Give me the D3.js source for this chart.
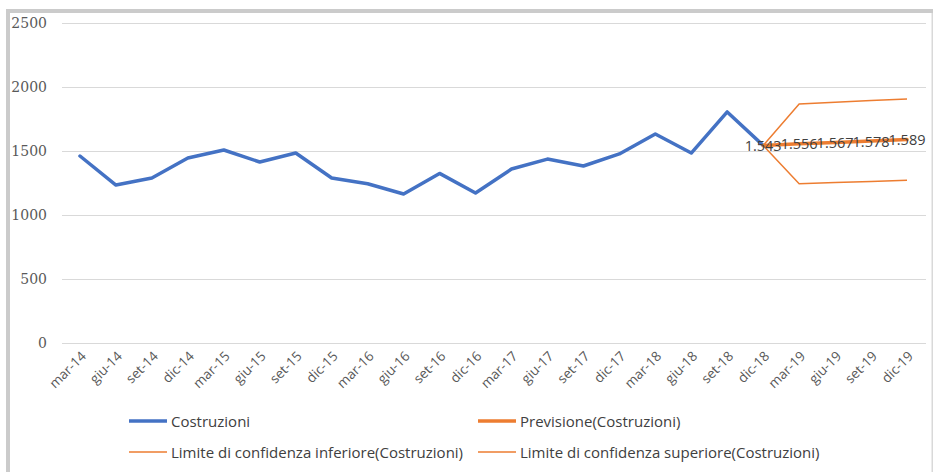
<!DOCTYPE html>
<html>
<head>
<meta charset="utf-8">
<script src="https://cdn.jsdelivr.net/npm/d3@7"></script>
<style>
  html, body { margin: 0; padding: 0; background: #fff; }
  svg { display: block; }
</style>
</head>
<body>
<div id="chart"></div>
<script>
// Quarterly categories
const categories = ["mar-14","giu-14","set-14","dic-14","mar-15","giu-15","set-15","dic-15",
  "mar-16","giu-16","set-16","dic-16","mar-17","giu-17","set-17","dic-17",
  "mar-18","giu-18","set-18","dic-18","mar-19","giu-19","set-19","dic-19"];

// Observed series (mar-14 .. dic-18)
const costruzioni = [1461,1234,1289,1445,1508,1414,1484,1289,1244,1164,1325,1172,
  1359,1437,1383,1477,1633,1484,1805,1543];

// Forecast and confidence bounds (dic-18 .. dic-19)
const forecastCats = ["dic-18","mar-19","giu-19","set-19","dic-19"];
const previsione = [1543,1556,1567,1578,1589];
const limiteInf  = [1543,1245,1253,1262,1272];
const limiteSup  = [1543,1867,1881,1894,1906];

const yTicks = [0,500,1000,1500,2000,2500];

const W = 933, H = 472;
const svg = d3.select("#chart").append("svg").attr("width", W).attr("height", H);

// Outer frame
svg.append("rect").attr("x",0).attr("y",0).attr("width",W).attr("height",H).attr("fill","#fff");
svg.append("rect").attr("x",6).attr("y",9).attr("width",W-6).attr("height",4).attr("fill","#cbcbcb");
svg.append("rect").attr("x",6).attr("y",9).attr("width",4).attr("height",H-9).attr("fill","#cbcbcb");
svg.append("rect").attr("x",931.5).attr("y",13).attr("width",1.5).attr("height",H-13).attr("fill","#d9d9d9");

const x = d3.scalePoint().domain(categories).range([62, 925]).padding(0.5);
const y = d3.scaleLinear().domain([0, 2500]).range([343, 23]);

// Gridlines + y labels
const yAxis = d3.axisLeft(y).tickValues(yTicks).tickFormat(d3.format("d"))
  .tickSize(-(925-62+1)).tickPadding(15);
const gy = svg.append("g").attr("transform","translate(62,0)").call(yAxis);
gy.select(".domain").remove();
gy.selectAll(".tick line").attr("stroke","#d9d9d9").attr("stroke-width",1);
gy.selectAll(".tick text")
  .attr("font-family","'DejaVu Serif', serif").attr("font-size",14)
  .attr("fill","#595959").attr("x",-15);

// x labels, rotated 45 degrees
const xAxis = d3.axisBottom(x).tickSize(0).tickFormat("");
const gx = svg.append("g").attr("transform","translate(0,343)").call(xAxis);
gx.select(".domain").remove();
svg.append("g").selectAll("text").data(categories).enter().append("text")
  .attr("transform", d => `translate(${x(d) + 7},${357}) rotate(-45)`)
  .attr("text-anchor","end")
  .attr("font-family","'Open Sans', sans-serif").attr("font-size",13.5)
  .attr("fill","#595959")
  .text(d => d);

const line = d3.line().x(d => x(d.c)).y(d => y(d.v));

const obs = categories.slice(0, costruzioni.length).map((c,i) => ({c, v: costruzioni[i]}));
const toPts = arr => forecastCats.map((c,i) => ({c, v: arr[i]}));

const plot = svg.append("g");
plot.append("path").datum(obs).attr("d", line)
  .attr("fill","none").attr("stroke","#4472C4").attr("stroke-width",3.5)
  .attr("stroke-linejoin","round").attr("stroke-linecap","round");
plot.append("path").datum(toPts(previsione)).attr("d", line)
  .attr("fill","none").attr("stroke","#ED7D31").attr("stroke-width",3.5)
  .attr("stroke-linejoin","round").attr("stroke-linecap","round");
plot.append("path").datum(toPts(limiteInf)).attr("d", line)
  .attr("fill","none").attr("stroke","#ED7D31").attr("stroke-width",1.5);
plot.append("path").datum(toPts(limiteSup)).attr("d", line)
  .attr("fill","none").attr("stroke","#ED7D31").attr("stroke-width",1.5);

// Forecast value labels (Italian thousands separator)
const fmt = d3.formatLocale({decimal: ",", thousands: ".", grouping: [3], currency: ["€",""]}).format(",");
plot.selectAll(".lbl").data(toPts(previsione)).enter().append("text")
  .attr("x", d => x(d.c)).attr("y", d => y(d.v) + 5.5)
  .attr("text-anchor","middle")
  .attr("font-family","'Open Sans', sans-serif").attr("font-size",14.5)
  .attr("fill","#404040")
  .text(d => fmt(d.v));

// Legend
const legend = [
  {name:"Costruzioni", color:"#4472C4", w:3.5, lx:129, ly:421},
  {name:"Previsione(Costruzioni)", color:"#ED7D31", w:3.5, lx:478, ly:421},
  {name:"Limite di confidenza inferiore(Costruzioni)", color:"#ED7D31", w:1.5, lx:129, ly:452},
  {name:"Limite di confidenza superiore(Costruzioni)", color:"#ED7D31", w:1.5, lx:478, ly:452}
];
const lg = svg.append("g").selectAll("g").data(legend).enter().append("g");
lg.append("line").attr("x1", d => d.lx).attr("x2", d => d.lx + 38)
  .attr("y1", d => d.ly).attr("y2", d => d.ly)
  .attr("stroke", d => d.color).attr("stroke-width", d => d.w);
lg.append("text").attr("x", d => d.lx + 42).attr("y", d => d.ly + 5.5)
  .attr("font-family","'Open Sans', sans-serif").attr("font-size",15)
  .attr("fill","#404040")
  .text(d => d.name);
</script>
</body>
</html>
